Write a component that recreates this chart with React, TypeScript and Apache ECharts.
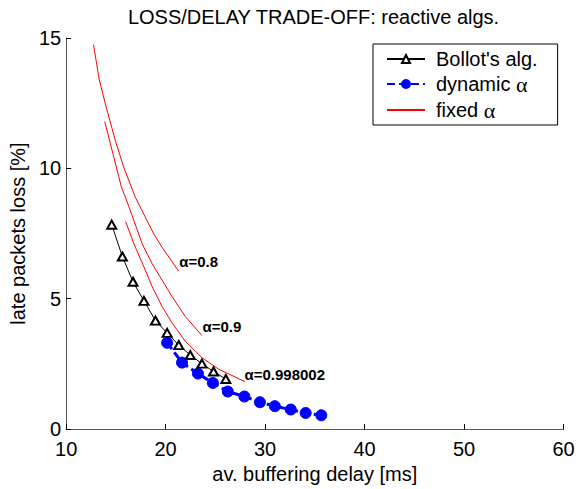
import React, { useEffect, useRef } from 'react';
import * as echarts from 'echarts';

const titleText = 'LOSS/DELAY TRADE-OFF: reactive algs.';
const xName = 'av. buffering delay [ms]';
const yName = 'late packets loss [%]';

const bollotX = [14.58, 15.65, 16.72, 17.82, 18.98, 20.15, 21.32, 22.48, 23.65, 24.82, 26.05];
const bollotY = [7.84, 6.62, 5.65, 4.92, 4.16, 3.69, 3.22, 2.84, 2.51, 2.21, 1.92];

const dynX = [20.15, 21.65, 23.25, 24.75, 26.25, 27.92, 29.48, 30.98, 32.58, 34.08, 35.65];
const dynY = [3.31, 2.55, 2.13, 1.77, 1.44, 1.25, 1.03, 0.88, 0.75, 0.62, 0.53];

const fixed08X = [12.75, 13.32, 13.98, 14.98, 15.82, 16.98, 17.98, 18.82, 19.65, 21.32];
const fixed08Y = [14.75, 13.42, 12.41, 11.02, 10.01, 8.87, 8.11, 7.48, 6.97, 6.05];
const fixed09X = [13.88, 15.55, 15.98, 16.82, 17.65, 18.65, 19.65, 20.65, 21.98, 23.65];
const fixed09Y = [11.8, 9.29, 8.87, 7.99, 7.1, 6.34, 5.71, 5.08, 4.32, 3.59];
const fixed0998X = [15.98, 16.82, 17.82, 18.65, 19.65, 20.65, 21.98, 23.65, 25.32, 27.98];
const fixed0998Y = [7.96, 7.1, 6.22, 5.46, 4.7, 4.07, 3.37, 2.74, 2.3, 1.82];

const fixedLabels = ['α=0.8', 'α=0.9', 'α=0.998002'];
const legendNames = ["Bollot's alg.", 'dynamic α', 'fixed α'];

const FONT = 'Arial, "Liberation Sans", Helvetica, sans-serif';

export default function App() {
  const ref = useRef<HTMLDivElement>(null);
  useEffect(() => {
    const chart = echarts.init(ref.current!, null, { renderer: 'svg' });
    const zip = (xs: number[], ys: number[]) => xs.map((x, i) => [x, ys[i]]);
    const fixedXs = [fixed08X, fixed09X, fixed0998X];
    const fixedYs = [fixed08Y, fixed09Y, fixed0998Y];
    const labelOffsets = [[-5, -10], [-5, -9], [-6, -7]];

    const fixedSeries = fixedXs.map((xs, k) => {
      const last = xs.length - 1;
      return {
        name: legendNames[2],
        type: 'line',
        symbol: 'none',
        z: 3,
        lineStyle: { color: '#ff0000', width: 1 },
        itemStyle: { color: 'rgba(0,0,0,0)', borderColor: 'rgba(0,0,0,0)' },
        data: zip(xs, fixedYs[k]),
        markPoint: {
          symbol: 'circle',
          symbolSize: 1,
          itemStyle: { color: 'rgba(0,0,0,0)' },
          label: {
            show: true,
            position: 'right',
            offset: labelOffsets[k],
            formatter: fixedLabels[k],
            color: '#000',
            fontWeight: 'bold',
            fontSize: 15,
            fontFamily: FONT,
          },
          data: [{ coord: [xs[last], fixedYs[k][last]] }],
        },
      };
    });

    const axisCommon = {
      type: 'value',
      nameLocation: 'middle',
      nameTextStyle: { color: '#000', fontSize: 20, fontFamily: FONT },
      axisLine: { show: true, onZero: false, lineStyle: { color: '#555', width: 1 } },
      axisTick: { show: true, inside: true, length: 5, lineStyle: { color: '#000' } },
      splitLine: { show: false },
    };

    chart.setOption({
      animation: false,
      backgroundColor: '#fff',
      grid: { left: 63.5, right: 21.5, top: 38, bottom: 55 },
      graphic: [
        {
          type: 'text',
          x: 313.5,
          y: 17,
          style: {
            text: titleText,
            fontSize: 20,
            fontFamily: FONT,
            fill: '#000',
            textAlign: 'center',
            textVerticalAlign: 'middle',
          },
        },
      ],
      legend: {
        data: legendNames,
        orient: 'vertical',
        left: 373,
        top: 44,
        padding: [5, 20, 4, 13],
        itemGap: 4,
        itemWidth: 38,
        itemHeight: 10,
        borderColor: '#000',
        borderWidth: 1,
        backgroundColor: '#fff',
        formatter: (name: string) => name.replace('α', '{a|α}'),
        textStyle: {
          color: '#000',
          fontSize: 20,
          fontFamily: FONT,
          padding: [0, 0, 0, 6],
          rich: {
            a: { fontFamily: '"Liberation Serif", "DejaVu Serif", serif', fontSize: 22, color: '#000' },
          },
        },
      },
      xAxis: {
        ...axisCommon,
        min: 10,
        max: 60,
        interval: 10,
        name: xName,
        nameGap: 20,
        axisLabel: { color: '#000', fontSize: 20, fontFamily: FONT, margin: 10 },
      },
      yAxis: {
        ...axisCommon,
        min: 0,
        max: 15,
        interval: 5,
        name: yName,
        nameGap: 16,
        axisLabel: { color: '#000', fontSize: 20, fontFamily: FONT, margin: 5 },
      },
      series: [
        {
          name: legendNames[1],
          type: 'line',
          z: 4,
          data: zip(dynX, dynY),
          symbol: 'circle',
          symbolSize: 11,
          lineStyle: { color: '#0000ff', width: 3, type: [8, 4] },
          itemStyle: { color: '#0000ff', borderColor: '#0000ff', borderWidth: 1 },
        },
        {
          name: legendNames[0],
          type: 'line',
          z: 5,
          data: zip(bollotX, bollotY),
          symbol: 'emptyTriangle',
          symbolSize: [9, 8],
          lineStyle: { color: '#000', width: 1 },
          itemStyle: { color: '#000', borderColor: '#000', borderWidth: 1 },
        },
        ...fixedSeries,
      ],
    });
    return () => chart.dispose();
  }, []);
  return (
    <div
      ref={ref}
      style={{ position: 'fixed', left: 0, top: 0, width: 585, height: 489, background: '#fff' }}
    />
  );
}
